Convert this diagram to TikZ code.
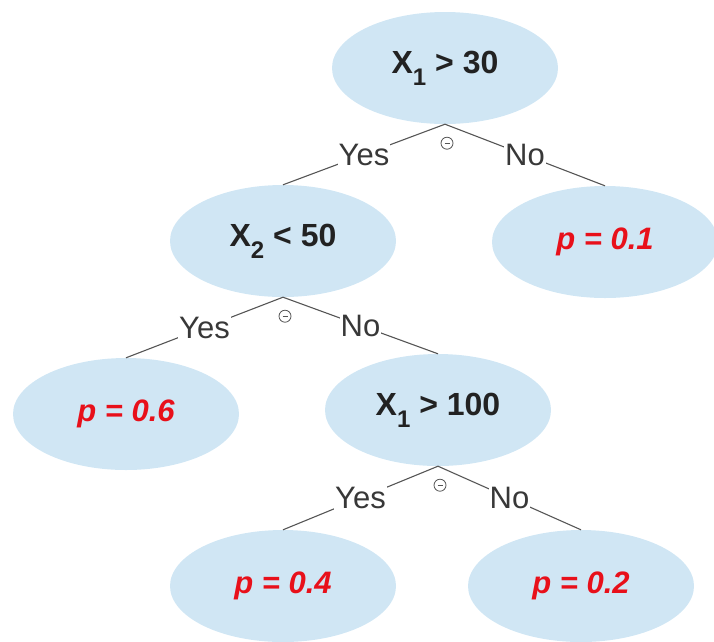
\documentclass[tikz,border=0pt]{standalone}
\usepackage{fontspec}
\setmainfont{Liberation Sans}
\usetikzlibrary{shapes.geometric}
\definecolor{nodeblue}{HTML}{D0E6F4}
\definecolor{leafred}{HTML}{E8101A}
\definecolor{txtdark}{HTML}{222222}
\definecolor{edgegray}{HTML}{555555}
\newcommand{\xsub}[1]{\raisebox{-0.38em}{\fontsize{24}{24}\selectfont #1}}
\begin{document}
\begin{tikzpicture}[x=1pt,y=-1pt,
 tnode/.style={ellipse, fill=nodeblue, minimum width=226pt, minimum height=112pt, inner sep=0pt},
 splitnode/.style={tnode, font=\fontsize{32}{32}\selectfont\bfseries, text=txtdark},
 leafnode/.style={tnode, font=\fontsize{31}{31}\selectfont\bfseries\itshape, text=leafred},
 link/.style={draw=edgegray, line width=1.1pt},
 elab/.style={fill=white, inner sep=1pt, font=\fontsize{31}{31}\selectfont, text=txtdark!90},
 collapse/.style={circle, draw=edgegray, line width=0.8pt, minimum size=12pt, inner sep=0pt}
]
\useasboundingbox (0,0) rectangle (714,641);

\node[splitnode] (root) at (445,68) {X\xsub{1} > 30};
\node[splitnode] (x2) at (283,241) {X\xsub{2} < 50};
\node[leafnode] (p01) at (605,242) {p = 0.1};
\node[leafnode] (p06) at (126,414) {p = 0.6};
\node[splitnode] (x1b) at (438,410) {X\xsub{1} > 100};
\node[leafnode] (p04) at (283,586) {p = 0.4};
\node[leafnode] (p02) at (581,586) {p = 0.2};

\draw[link] (root.south) -- node[elab]{Yes} (x2.north);
\draw[link] (root.south) -- node[elab]{No} (p01.north);
\draw[link] (x2.south) -- node[elab]{Yes} (p06.north);
\draw[link] (x2.south) -- node[elab]{No} (x1b.north);
\draw[link] (x1b.south) -- node[elab]{Yes} (p04.north);
\draw[link] (x1b.south) -- node[elab]{No} (p02.north);

\foreach \p/\m in {root/m1, x2/m2, x1b/m3} {
  \node[collapse] (\m) at ([xshift=2pt,yshift=-19pt]\p.south) {};
  \draw[edgegray, line width=0.8pt] ([xshift=-2.5pt]\m.center) -- ([xshift=2.5pt]\m.center);
}
\end{tikzpicture}
\end{document}
